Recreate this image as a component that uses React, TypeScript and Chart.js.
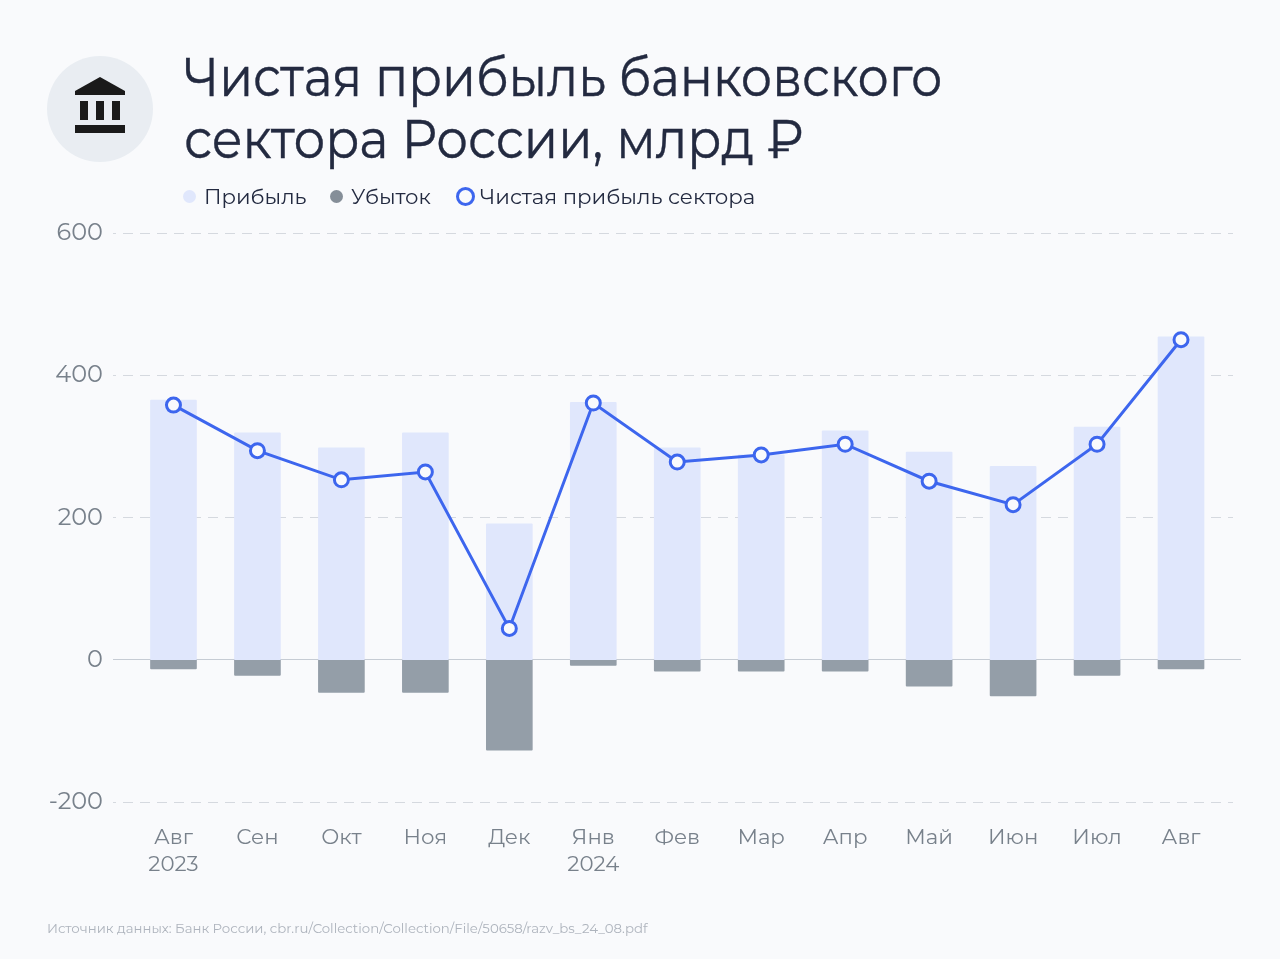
import React, { useEffect, useRef } from "react";
import { Chart, registerables } from "chart.js";

Chart.register(...registerables);

const titleLines = ["Чистая прибыль банковского", "сектора России, млрд ₽"];
const source = "Источник данных: Банк России, cbr.ru/Collection/Collection/File/50658/razv_bs_24_08.pdf";
const months = [["Авг", "2023"], ["Сен"], ["Окт"], ["Ноя"], ["Дек"], ["Янв", "2024"], ["Фев"], ["Мар"], ["Апр"], ["Май"], ["Июн"], ["Июл"], ["Авг"]];
const profit = [365, 319, 298, 319, 191, 362, 298, 288, 322, 292, 272, 327, 454];
const loss = [-13, -22, -46, -46, -127, -8, -16, -16, -16, -37, -51, -22, -13];
const net = [358, 294, 253, 264, 44, 361, 278, 288, 303, 251, 218, 303, 450];
const seriesNames = ["Прибыль", "Убыток", "Чистая прибыль сектора"];

const FONT = "Montserrat, 'Noto Sans', sans-serif";
const BG = "#f9fafc";

const gridPlugin = {
  id: "extendedGrid",
  beforeDatasetsDraw(chart: any) {
    const { ctx, scales } = chart;
    const y = scales.y;
    ctx.save();
    y.ticks.forEach((t: any) => {
      const py = Math.floor(y.getPixelForValue(t.value)) + 0.5;
      ctx.beginPath();
      if (t.value === 0) {
        ctx.setLineDash([]);
        ctx.strokeStyle = "#c6ccd4";
        ctx.moveTo(113, py);
        ctx.lineTo(1241, py);
      } else {
        ctx.setLineDash([10, 7]);
        ctx.lineDashOffset = 7;
        ctx.strokeStyle = "#d5d9df";
        ctx.moveTo(113, py);
        ctx.lineTo(1233, py);
      }
      ctx.lineWidth = 1;
      ctx.stroke();
    });
    ctx.restore();
  },
};

export default function App() {
  const ref = useRef<HTMLCanvasElement>(null);
  useEffect(() => {
    document.body.style.margin = "0";
    document.body.style.background = BG;
    const chart = new Chart(ref.current!, {
      type: "bar",
      data: {
        labels: months as any,
        datasets: [
          { type: "line", label: seriesNames[2], data: net, borderColor: "#3d66ee", borderWidth: 3, pointBackgroundColor: BG, pointBorderColor: "#3d66ee", pointBorderWidth: 3, pointRadius: 7, tension: 0, order: 0 } as any,
          { label: seriesNames[0], data: profit, backgroundColor: "#e0e7fc", barThickness: 46, borderRadius: 1, borderSkipped: false, stack: "a", order: 1 },
          { label: seriesNames[1], data: loss, backgroundColor: "#949ea8", barThickness: 46, borderRadius: 1, borderSkipped: false, stack: "a", order: 1 },
        ],
      },
      plugins: [gridPlugin],
      options: {
        responsive: false,
        animation: false,
        layout: { padding: { top: 233, right: 57, bottom: 0, left: 0 } },
        plugins: { legend: { display: false }, title: { display: false }, tooltip: { enabled: false } },
        scales: {
          x: {
            stacked: true,
            grid: { display: false },
            border: { display: false },
            ticks: { color: "#78818b", font: { family: FONT, size: 21.3, lineHeight: 1.27 }, padding: 14, maxRotation: 0, autoSkip: false },
            afterFit(s: any) { s.height = 157; },
          },
          y: {
            stacked: true,
            min: -200,
            max: 600,
            grid: { display: false },
            border: { display: false },
            ticks: { stepSize: 200, color: "#78818b", font: { family: FONT, size: 24 }, padding: 20.5, callback: (v: any) => String(v) },
            afterFit(s: any) { s.width = 131.5; },
          },
        },
      } as any,
    });
    return () => chart.destroy();
  }, []);

  const abs = (o: React.CSSProperties): React.CSSProperties => ({ position: "absolute", fontFamily: FONT, whiteSpace: "nowrap", ...o });
  return (
    <div style={{ position: "relative", width: 1280, height: 959, background: BG, overflow: "hidden" }}>
      <canvas ref={ref} width={1280} height={959} style={{ position: "absolute", left: 0, top: 0 }} />
      <svg width={106} height={106} viewBox="0 0 106 106" style={{ position: "absolute", left: 47, top: 56 }}>
        <circle cx={53} cy={53} r={53} fill="#e9edf2" />
        <g fill="#1a1a1a">
          <path d="M53 21 L78 35 V39 H28 V35 Z" />
          <rect x={33} y={45} width={8} height={19} />
          <rect x={49} y={45} width={8} height={19} />
          <rect x={65} y={45} width={8} height={19} />
          <rect x={28} y={69} width={50} height={8} />
        </g>
      </svg>
      {titleLines.map((l, i) => (
        <div key={i} style={abs({ left: 184, top: 38 + i * 62, fontSize: 54, lineHeight: "78px", color: "#232a40", WebkitTextStroke: "0.4px #232a40", transform: `scaleX(${i === 0 ? 0.912 : 0.925})`, transformOrigin: "left center" })}>{l}</div>
      ))}
      <div style={{ position: "absolute", left: 183, top: 190, width: 13, height: 13, borderRadius: 7, background: "#e0e7fc" }} />
      <div style={abs({ left: 204, top: 181, fontSize: 21.2, lineHeight: "30px", color: "#232a40" })}>{seriesNames[0]}</div>
      <div style={{ position: "absolute", left: 330, top: 190, width: 13, height: 13, borderRadius: 7, background: "#858e98" }} />
      <div style={abs({ left: 351, top: 181, fontSize: 21.2, lineHeight: "30px", color: "#232a40" })}>{seriesNames[1]}</div>
      <div style={{ position: "absolute", left: 456, top: 187, width: 13, height: 13, borderRadius: 10, border: "3.5px solid #3d66ee", background: BG }} />
      <div style={abs({ left: 480, top: 181, fontSize: 21.3, lineHeight: "30px", color: "#232a40" })}>{seriesNames[2]}</div>
      <div style={abs({ left: 47, top: 919, fontSize: 13.3, lineHeight: "18px", color: "#aeb4bd" })}>{source}</div>
    </div>
  );
}
